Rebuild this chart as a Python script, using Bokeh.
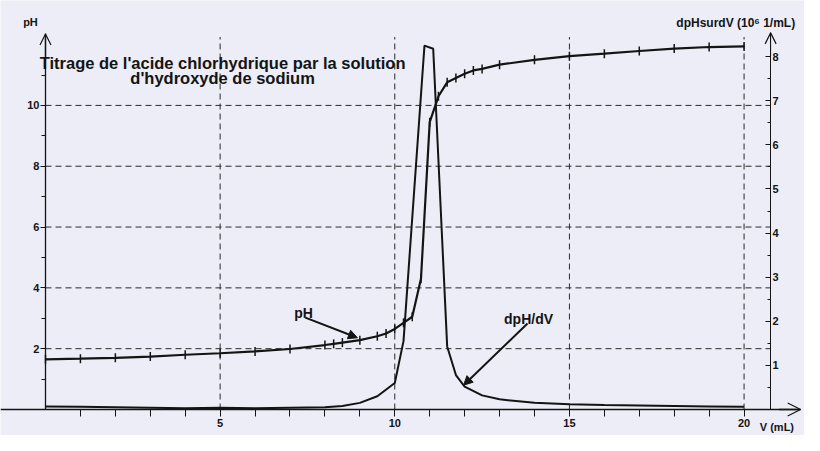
import math
from bokeh.plotting import figure
from bokeh.models import (Range1d, LinearAxis, FixedTicker, Arrow, OpenHead,
                          NormalHead, Label)
from bokeh.embed import file_html
from bokeh.resources import INLINE

# ---- data ----
volume_ph = [0, 1, 2, 3, 4, 5, 6, 7, 8, 8.25, 8.5, 9, 9.5, 9.75, 10, 10.25, 10.5,
             10.75, 11, 11.25, 11.5, 11.75, 12, 12.25, 12.5, 13, 14, 15, 16, 17,
             18, 19, 20]
ph_values = [1.65, 1.67, 1.70, 1.74, 1.80, 1.85, 1.91, 1.99, 2.12, 2.16, 2.20,
             2.28, 2.41, 2.50, 2.65, 2.85, 3.05, 4.30, 9.45, 10.30, 10.76, 10.90,
             11.04, 11.15, 11.20, 11.34, 11.50, 11.62, 11.70, 11.79, 11.87,
             11.92, 11.94]

volume_deriv = [0, 1, 2, 3, 4, 5, 6, 7, 8, 8.5, 9, 9.5, 10, 10.25, 10.85, 11.1,
                11.5, 11.75, 12, 12.5, 13, 14, 15, 16, 17, 18, 19, 20]
deriv_values = [0.07, 0.06, 0.05, 0.04, 0.03, 0.04, 0.03, 0.04, 0.05, 0.08,
                0.15, 0.30, 0.60, 1.55, 8.25, 8.18, 1.43, 0.78, 0.52, 0.32,
                0.23, 0.15, 0.12, 0.10, 0.09, 0.08, 0.07, 0.06]

x_ticks = [5, 10, 15, 20]
x_minor_ticks = [1, 2, 3, 4, 6, 7, 8, 9, 11, 12, 13, 14, 16, 17, 18, 19]
ph_ticks = [2, 4, 6, 8, 10]
ph_minor_ticks = [1, 3, 5, 7, 9, 11]
deriv_ticks = [1, 2, 3, 4, 5, 6, 7, 8]
deriv_minor_ticks = [0.5, 1.5, 2.5, 3.5, 4.5, 5.5, 6.5, 7.5]

TITLE_1 = "Titrage de l'acide chlorhydrique par la solution"
TITLE_2 = "d'hydroxyde de sodium"

# ---- layout constants ----
X0, X1 = -1.288, 21.73
PH0, PH1 = -0.855, 13.45
D0, D1 = -0.59, 9.274
RIGHT_AXIS_X = 20.76
PH_TOP = 12.35
GRID_TOP = 12.25
X_ARROW = 21.62

BG = "#ecedf6"
INK = "#141414"
FONT = "Liberation Sans"

p = figure(width=804, height=435, output_backend="svg", toolbar_location=None,
           x_range=Range1d(X0, X1), y_range=Range1d(PH0, PH1),
           x_axis_location=None, y_axis_location=None, min_border=0)
p.extra_y_ranges = {"dp": Range1d(D0, D1)}
p.outline_line_color = None
p.background_fill_color = BG
p.border_fill_color = BG
for g in p.grid:
    g.visible = False

def style_axis(ax):
    ax.axis_line_color = INK
    ax.axis_line_width = 1.3
    ax.major_tick_line_color = INK
    ax.minor_tick_line_color = INK
    ax.major_label_text_font = FONT
    ax.major_label_text_font_style = "bold"
    ax.major_label_text_font_size = "11px"
    ax.major_label_text_color = INK

# bottom axis (volume)
xax = LinearAxis(fixed_location=0, bounds=(X0, X_ARROW),
                 ticker=FixedTicker(ticks=x_ticks, minor_ticks=x_minor_ticks))
style_axis(xax)
xax.major_tick_out = 7
xax.major_tick_in = 0
xax.minor_tick_out = 7
xax.minor_tick_in = 0
xax.major_label_standoff = 2
p.add_layout(xax, "below")

# left axis (pH)
yax = LinearAxis(fixed_location=0, bounds=(0, PH_TOP),
                 ticker=FixedTicker(ticks=ph_ticks, minor_ticks=ph_minor_ticks))
style_axis(yax)
yax.major_tick_out = 5
yax.major_tick_in = 0
yax.minor_tick_out = 4
yax.minor_tick_in = 0
yax.major_label_standoff = 1
p.add_layout(yax, "left")

# right axis (dpH/dV)
rax = LinearAxis(y_range_name="dp", fixed_location=RIGHT_AXIS_X, bounds=(0, 8.54),
                 ticker=FixedTicker(ticks=deriv_ticks, minor_ticks=deriv_minor_ticks))
style_axis(rax)
rax.axis_line_width = 1.0
rax.major_tick_out = 0
rax.major_tick_in = 5
rax.minor_tick_out = 0
rax.minor_tick_in = 3
rax.major_label_standoff = 2
p.add_layout(rax, "right")

# dashed grid
p.segment(x0=[0] * len(ph_ticks), y0=ph_ticks,
          x1=[RIGHT_AXIS_X] * len(ph_ticks), y1=ph_ticks,
          line_color="#2a2a2a", line_width=1, line_dash="6 4")
p.segment(x0=x_ticks, y0=[0] * len(x_ticks), x1=x_ticks,
          y1=[GRID_TOP] * len(x_ticks),
          line_color="#2a2a2a", line_width=1, line_dash="6 4")

# curves
p.line(volume_deriv, deriv_values, y_range_name="dp", line_color=INK, line_width=2)
p.line(volume_ph, ph_values, line_color=INK, line_width=2.2)
p.scatter(volume_ph, ph_values, marker="dash", angle=math.pi / 2, size=9,
          line_color=INK, line_width=1.5)

# axis arrow heads
p.add_layout(Arrow(end=OpenHead(size=11, line_color=INK, line_width=1.2),
                   x_start=0, y_start=11.5, x_end=0, y_end=PH_TOP,
                   line_color=INK, line_width=1.3))
p.add_layout(Arrow(end=OpenHead(size=11, line_color=INK, line_width=1.2),
                   x_start=RIGHT_AXIS_X, y_start=8.0, x_end=RIGHT_AXIS_X, y_end=8.54,
                   y_range_name="dp", line_color=INK, line_width=1.0))
p.add_layout(Arrow(end=OpenHead(size=13, line_color=INK, line_width=1.2),
                   x_start=21.0, y_start=0, x_end=X_ARROW, y_end=0,
                   line_color=INK, line_width=1.3))

# annotation arrows
p.add_layout(Arrow(end=NormalHead(size=9, fill_color=INK, line_color=INK),
                   x_start=7.44, y_start=3.02, x_end=8.93, y_end=2.36,
                   line_color=INK, line_width=2))
p.add_layout(Arrow(end=NormalHead(size=9, fill_color=INK, line_color=INK),
                   x_start=13.8, y_start=2.83, x_end=11.97, y_end=0.8,
                   line_color=INK, line_width=2))

def label(x, y, text, size, align="center"):
    p.add_layout(Label(x=x, y=y, text=text, text_align=align,
                       text_baseline="alphabetic", text_font=FONT,
                       text_font_style="bold", text_font_size=size,
                       text_color=INK))

label(5.07, 11.41, TITLE_1, "16.5px")
label(5.07, 10.89, TITLE_2, "16.5px")
label(-0.43, 12.73, "pH", "11px")
label(18.06, 12.7, "dpHsurdV (10\u2076 1/mL)", "12px", "left")
label(20.45, -0.56, "V (mL)", "11px", "left")
label(7.39, 3.16, "pH", "14px")
label(13.83, 2.99, "dpH/dV", "14px")

open("out.html", "w").write(file_html(p, INLINE))
